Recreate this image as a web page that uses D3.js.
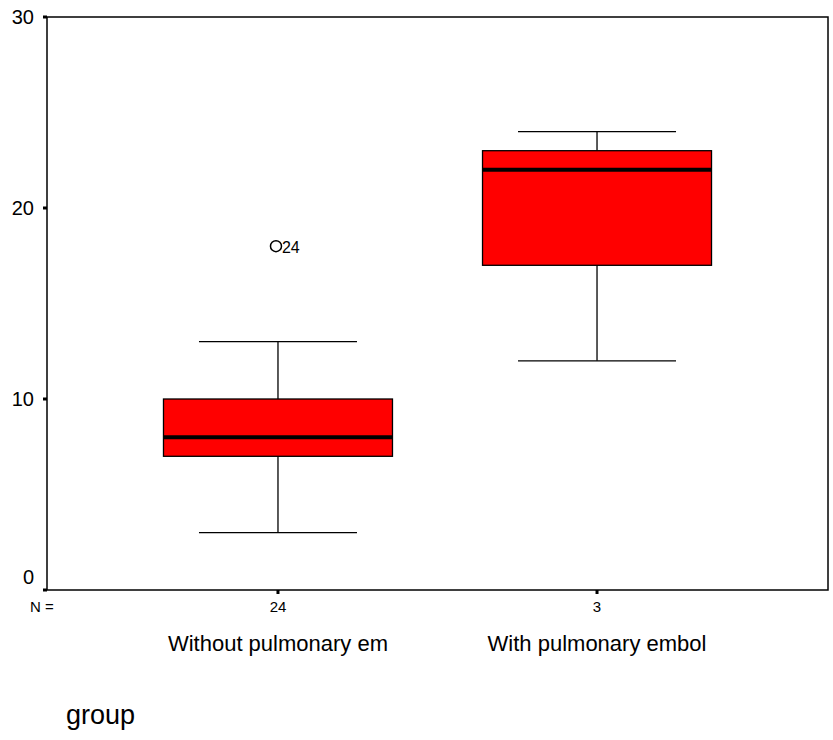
<!DOCTYPE html>
<html>
<head>
<meta charset="utf-8">
<title>group boxplot</title>
<script src="https://cdn.jsdelivr.net/npm/d3@7"></script>
<style>
  body { margin: 0; background: #fff; }
  text { font-family: "Liberation Sans", Arial, sans-serif; fill: #000; }
</style>
</head>
<body>
<svg id="chart" width="833" height="740"></svg>
<script>
// data
var groups = ["Without pulmonary em", "With pulmonary embol"];
var counts = [24, 3];
var whiskerLow = [3, 12];
var q1 = [7, 17];
var median = [8, 22];
var q3 = [10, 23];
var whiskerHigh = [13, 24];
var outliers = [{ group: "Without pulmonary em", value: 18, label: "24" }];
var yTicks = [0, 10, 20, 30];

var svg = d3.select("#chart");
var plotL = 47, plotR = 828, plotT = 17, plotB = 590;

var y = d3.scaleLinear().domain([0, 30]).range([plotB, plotT]);
var x = d3.scalePoint().domain(groups).range([plotL, plotR]).padding(0.724);
var boxW = 229, capW = 158;

// frame
svg.append("rect")
  .attr("x", plotL).attr("y", plotT)
  .attr("width", plotR - plotL).attr("height", plotB - plotT)
  .attr("fill", "none").attr("stroke", "#000").attr("stroke-width", 1.5);

// y ticks (the 0 label sits a bit above its tick)
var yAxis = svg.append("g");
yTicks.forEach(function(t){
  yAxis.append("rect")
    .attr("x", plotL - 4).attr("y", y(t) - 1.5)
    .attr("width", 4).attr("height", 3).attr("fill", "#000");
  yAxis.append("text")
    .attr("x", 34).attr("y", t === 0 ? y(t) - 6 : y(t) + 7)
    .attr("text-anchor", "end").attr("font-size", 20)
    .text(t);
});

// x ticks and labels
groups.forEach(function(g, i){
  var cx = x(g);
  svg.append("rect")
    .attr("x", cx - 1.5).attr("y", plotB)
    .attr("width", 3).attr("height", 4).attr("fill", "#000");
  svg.append("text")
    .attr("x", cx).attr("y", 612)
    .attr("text-anchor", "middle").attr("font-size", 15)
    .text(counts[i]);
  svg.append("text")
    .attr("x", cx).attr("y", 651)
    .attr("text-anchor", "middle").attr("font-size", 22)
    .text(g);
});
svg.append("text").attr("x", 30).attr("y", 612)
  .attr("font-size", 15).text("N =");

// boxes
groups.forEach(function(g, i){
  var cx = x(g);
  var b = svg.append("g");
  b.append("line")
    .attr("x1", cx).attr("x2", cx)
    .attr("y1", y(whiskerLow[i])).attr("y2", y(q1[i]))
    .attr("stroke", "#000").attr("stroke-width", 1.3);
  b.append("line")
    .attr("x1", cx).attr("x2", cx)
    .attr("y1", y(q3[i])).attr("y2", y(whiskerHigh[i]))
    .attr("stroke", "#000").attr("stroke-width", 1.3);
  [whiskerLow[i], whiskerHigh[i]].forEach(function(v){
    b.append("line")
      .attr("x1", cx - capW / 2).attr("x2", cx + capW / 2)
      .attr("y1", y(v)).attr("y2", y(v))
      .attr("stroke", "#000").attr("stroke-width", 1.3);
  });
  b.append("rect")
    .attr("x", cx - boxW / 2).attr("y", y(q3[i]))
    .attr("width", boxW).attr("height", y(q1[i]) - y(q3[i]))
    .attr("fill", "#ff0000").attr("stroke", "#000").attr("stroke-width", 1.3);
  b.append("line")
    .attr("x1", cx - boxW / 2).attr("x2", cx + boxW / 2)
    .attr("y1", y(median[i])).attr("y2", y(median[i]))
    .attr("stroke", "#000").attr("stroke-width", 4);
});

// outliers
outliers.forEach(function(o){
  var cx = x(o.group);
  svg.append("circle")
    .attr("cx", cx - 2).attr("cy", y(o.value))
    .attr("r", 5.5).attr("fill", "none")
    .attr("stroke", "#000").attr("stroke-width", 1.5);
  svg.append("text")
    .attr("x", cx + 4).attr("y", y(o.value) + 7)
    .attr("font-size", 16).text(o.label);
});

svg.append("text").attr("x", 66).attr("y", 724)
  .attr("font-size", 27).text("group");
</script>
</body>
</html>
